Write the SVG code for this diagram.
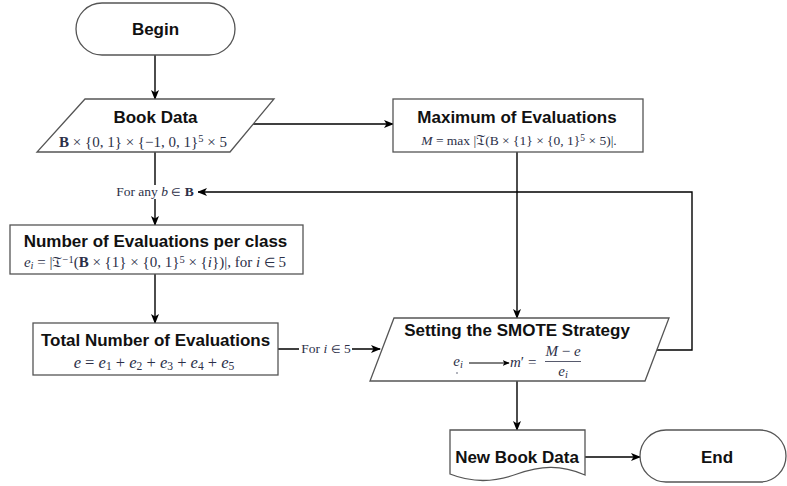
<svg xmlns="http://www.w3.org/2000/svg" width="787" height="486" viewBox="0 0 787 486">
<defs>
<marker id="arr" viewBox="0 0 10 10" refX="9" refY="5" markerWidth="10" markerHeight="10" markerUnits="userSpaceOnUse" orient="auto">
<path d="M0,1 L10,5 L0,9 L2.5,5 Z" fill="#000"/>
</marker>
<marker id="arrS" viewBox="0 0 10 10" refX="9" refY="5" markerWidth="7" markerHeight="7" markerUnits="userSpaceOnUse" orient="auto">
<path d="M0,1 L10,5 L0,9 L2.5,5 Z" fill="#000"/>
</marker>
<style>
.shape{fill:#fff;stroke:#555;stroke-width:1.3}
.edge{fill:none;stroke:#000;stroke-width:1.4}
.title{font-family:"Liberation Sans",Arial,sans-serif;font-weight:bold;font-size:17px;fill:#111;text-anchor:middle}
.math{font-family:"Liberation Serif","Times New Roman",serif;fill:#2c3048;text-anchor:middle}
.lbl{font-family:"Liberation Serif","Times New Roman",serif;font-size:13.5px;fill:#2c3048;text-anchor:middle}
.it{font-style:italic}
.bf{font-weight:bold}
.fk{font-family:"DejaVu Serif","DejaVu Sans","Noto Sans",serif}
.in{font-size:85%}
.sup{font-size:70%}
</style>
</defs>
<rect width="787" height="486" fill="#fff"/>

<g id="connectors">
<line class="edge" x1="155" y1="55" x2="155" y2="99" marker-end="url(#arr)"/>
<line class="edge" x1="253" y1="124" x2="393" y2="124" marker-end="url(#arr)"/>
<line class="edge" x1="155" y1="152" x2="155" y2="225" marker-end="url(#arr)"/>
<line class="edge" x1="155" y1="274" x2="155" y2="323" marker-end="url(#arr)"/>
<line class="edge" x1="517" y1="152" x2="517" y2="318" marker-end="url(#arr)"/>
<polyline class="edge" points="655,350 692,350 692,192 198,192" marker-end="url(#arr)"/>
<line class="edge" x1="278" y1="349" x2="380" y2="349" marker-end="url(#arr)"/>
<line class="edge" x1="517" y1="381" x2="517" y2="430" marker-end="url(#arr)"/>
<line class="edge" x1="585" y1="457" x2="640" y2="457" marker-end="url(#arr)"/>
<rect x="112" y="185" width="86" height="14" fill="#fff"/>
<text class="lbl" x="155" y="196">For any <tspan class="it">b</tspan> <tspan class="in">∈</tspan> <tspan class="bf">B</tspan></text>
<rect x="299" y="342" width="53" height="14" fill="#fff"/>
<text class="lbl" x="326" y="353">For <tspan class="it">i</tspan> <tspan class="in">∈</tspan> 5</text>
</g>

<g id="begin">
<rect class="shape" x="76" y="3" width="159" height="52" rx="26" ry="26"/>
<text class="title" x="155.5" y="35">Begin</text>
</g>

<g id="book-data">
<polygon class="shape" points="85,99 274,99 230,152 37,152"/>
<text class="title" x="155.5" y="123">Book Data</text>
<text class="math" style="font-size:15px" x="143" y="147"><tspan class="bf">B</tspan> × {0, 1} × {−1, 0, 1}<tspan class="sup" dy="-0.45em">5</tspan><tspan dy="0.315em"> × 5</tspan></text>
</g>

<g id="maximum">
<rect class="shape" x="393" y="99" width="250" height="53"/>
<text class="title" x="517" y="123">Maximum of Evaluations</text>
<text class="math" style="font-size:13.5px" x="519" y="145"><tspan class="it">M</tspan> = max |<tspan class="fk">𝔗</tspan>(B × {1} × {0, 1}<tspan class="sup" dy="-0.4em">5</tspan><tspan dy="0.28em"> × 5)|.</tspan></text>
</g>

<g id="per-class">
<rect class="shape" x="10" y="225" width="293" height="49"/>
<text class="title" x="155.5" y="247">Number of Evaluations per class</text>
<text class="math" style="font-size:15px" x="155" y="267"><tspan class="it">e</tspan><tspan class="it sup" dy="0.2em">i</tspan><tspan dy="-0.14em"> = |</tspan><tspan class="fk">𝔗</tspan><tspan class="sup" dy="-0.4em">−1</tspan><tspan dy="0.28em">(</tspan><tspan class="bf">B</tspan> × {1} × {0, 1}<tspan class="sup" dy="-0.4em">5</tspan><tspan dy="0.28em"> × {</tspan><tspan class="it">i</tspan>})|, for <tspan class="it">i</tspan> <tspan class="in">∈</tspan> 5</text>
</g>

<g id="total">
<rect class="shape" x="33" y="323" width="245" height="52"/>
<text class="title" x="155.5" y="346">Total Number of Evaluations</text>
<text class="math" style="font-size:16.5px" x="154" y="368"><tspan class="it">e</tspan> = <tspan class="it">e</tspan><tspan class="sup" dy="0.2em">1</tspan><tspan dy="-0.14em"> + </tspan><tspan class="it">e</tspan><tspan class="sup" dy="0.2em">2</tspan><tspan dy="-0.14em"> + </tspan><tspan class="it">e</tspan><tspan class="sup" dy="0.2em">3</tspan><tspan dy="-0.14em"> + </tspan><tspan class="it">e</tspan><tspan class="sup" dy="0.2em">4</tspan><tspan dy="-0.14em"> + </tspan><tspan class="it">e</tspan><tspan class="sup" dy="0.2em">5</tspan></text>
</g>

<g id="smote">
<polygon class="shape" points="394,318 669,318 645,381 370,381"/>
<text class="title" x="517" y="336">Setting the SMOTE Strategy</text>
<text class="math" style="font-size:15px" x="458" y="366"><tspan class="it">e</tspan><tspan class="it sup" dy="0.2em">i</tspan></text>
<circle cx="457" cy="373" r="0.7" fill="#2c3048"/>
<line x1="469" y1="363" x2="509" y2="363" stroke="#000" stroke-width="1" marker-end="url(#arrS)"/>
<text class="math" style="font-size:15px;text-anchor:start" x="510" y="367"><tspan class="it">m</tspan>′ =</text>
<text class="math" style="font-size:15px" x="563" y="356"><tspan class="it">M</tspan> − <tspan class="it">e</tspan></text>
<line x1="545" y1="361.5" x2="581" y2="361.5" stroke="#2c3048" stroke-width="0.8"/>
<text class="math" style="font-size:15px" x="563" y="376"><tspan class="it">e</tspan><tspan class="it sup" dy="0.2em">i</tspan></text>
</g>

<g id="new-book-data">
<path class="shape" d="M450,430 L585,430 L585,475 C560,464 540,466 517,474 C493,483 470,482 450,474 Z"/>
<text class="title" x="517" y="463">New Book Data</text>
</g>

<g id="end">
<rect class="shape" x="640" y="430" width="146" height="52" rx="26" ry="26"/>
<text class="title" x="717" y="463">End</text>
</g>
</svg>
